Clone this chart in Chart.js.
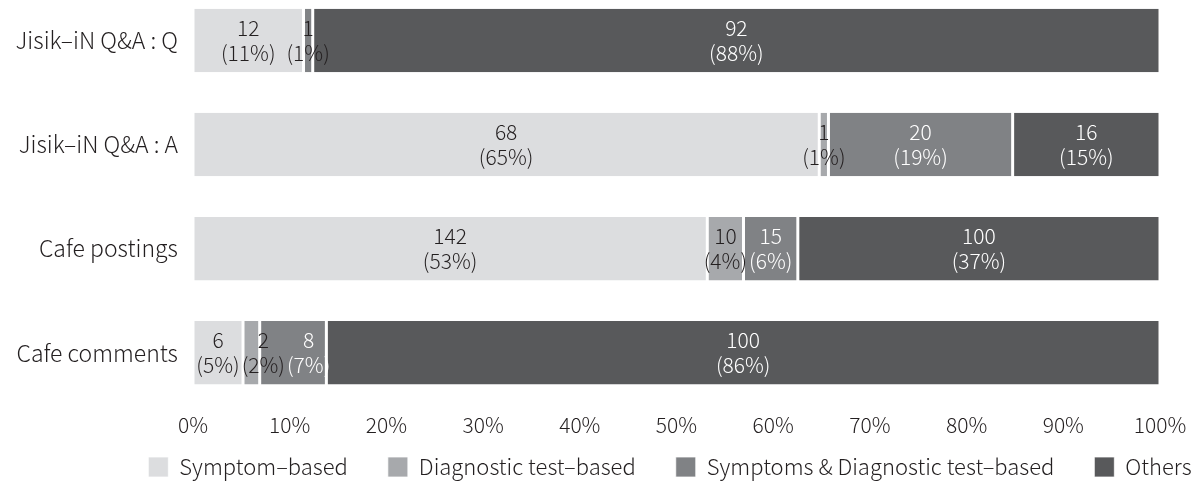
<!DOCTYPE html>
<html>
<head>
<meta charset="utf-8">
<script src="https://cdn.jsdelivr.net/npm/chart.js@4"></script>
<style>
  html, body { margin: 0; padding: 0; background: #ffffff; }
  #wrap { width: 1199px; height: 483px; position: relative; }
</style>
</head>
<body>
<div id="wrap"><canvas id="chart"></canvas></div>
<script>
// Source categories (one bar each)
const categories = ['Jisik–iN Q&A : Q', 'Jisik–iN Q&A : A', 'Cafe postings', 'Cafe comments'];

// Series names
const seriesNames = ['Symptom–based', 'Diagnostic test–based', 'Symptoms & Diagnostic test–based', 'Others'];

// Counts per category
const symptomBased    = [12, 68, 142, 6];
const diagnosticBased = [0, 1, 10, 2];
const bothBased       = [1, 20, 15, 8];
const others          = [92, 16, 100, 100];

// Axis ticks (percent of category total)
const xTickValues = [0, 10, 20, 30, 40, 50, 60, 70, 80, 90, 100];

const seriesCounts = [symptomBased, diagnosticBased, bothBased, others];
const seriesColors = ['#dcdddf', '#a7a9ac', '#808285', '#58595b'];
const labelColors  = ['#231f20', '#231f20', '#ffffff', '#ffffff'];

const totals = categories.map((_, i) => seriesCounts.reduce((s, arr) => s + arr[i], 0));

const FONT = '"Noto Sans CJK KR", "Noto Sans", sans-serif';
const WEIGHT = 300;
const TEXT = '#231f20';

Chart.defaults.font.family = FONT;
Chart.defaults.font.size = 21;
Chart.defaults.font.weight = WEIGHT;
Chart.defaults.color = TEXT;

// Two-line "count / (percent)" labels centred on each segment,
// nudged right when a label would run into its left neighbour
const segmentLabels = {
  id: 'segmentLabels',
  afterDatasetsDraw(chart) {
    const ctx = chart.ctx;
    ctx.save();
    ctx.font = WEIGHT + ' 21px ' + FONT;
    ctx.textAlign = 'center';
    ctx.textBaseline = 'middle';
    const ds = chart.data.datasets;
    chart.data.labels.forEach((_, i) => {
      let prevRight = -Infinity;
      ds.forEach((set, k) => {
        const n = set.counts[i];
        if (!n) return;
        const bar = chart.getDatasetMeta(k).data[i];
        const share = set.data[i];
        const top = String(n);
        const bottom = '(' + Math.round(share) + '%)';
        const w = Math.max(ctx.measureText(top).width, ctx.measureText(bottom).width);
        let cx = (bar.x + bar.base) / 2;
        if (cx - w / 2 < prevRight + 2) cx = prevRight + 2 + w / 2;
        prevRight = cx + w / 2;
        ctx.fillStyle = share < 2 ? TEXT : labelColors[k];
        ctx.fillText(top, cx, bar.y - 12.5);
        ctx.fillText(bottom, cx, bar.y + 12.5);
      });
    });
    ctx.restore();
  }
};

// Place the legend row centred at x = 670, items centred on y = 467
const legendRow = {
  id: 'legendRow',
  afterLayout(chart) {
    const lg = chart.legend;
    if (!lg || !lg.lineWidths) return;
    const pad = lg.options.labels.padding;
    const lw = lg.lineWidths[0];
    const W = chart.width;
    const start = 670 - (lw - pad) / 2;
    lg.left = (2 * start - pad - W + lw) / 2;
    lg.right = lg.left + W;
    lg.top = 467 - 11 - pad;
    lg.bottom = chart.height;
    if (lg.adjustHitBoxes) lg.adjustHitBoxes();
  }
};

new Chart(document.getElementById('chart'), {
  type: 'bar',
  data: {
    labels: categories,
    datasets: seriesCounts.map((arr, k) => ({
      label: seriesNames[k],
      counts: arr,
      data: arr.map((v, i) => v / totals[i] * 100),
      backgroundColor: seriesColors[k],
      borderColor: '#ffffff',
      borderWidth: { left: 1.5, right: 1.5, top: 0, bottom: 0 },
      borderSkipped: false,
      categoryPercentage: 1,
      barPercentage: 0.61,
      clip: false
    }))
  },
  options: {
    indexAxis: 'y',
    responsive: true,
    maintainAspectRatio: false,
    animation: false,
    layout: { padding: { top: 40.5, right: 39, bottom: 1, left: 0 } },
    plugins: {
      tooltip: { enabled: false },
      legend: {
        position: 'bottom',
        maxHeight: 44,
        labels: {
          boxWidth: 20,
          boxHeight: 20,
          padding: 40,
          color: TEXT,
          font: { size: 22, family: FONT, weight: WEIGHT }
        }
      }
    },
    scales: {
      x: {
        stacked: true,
        min: 0,
        max: 100,
        afterBuildTicks(scale) { scale.ticks = xTickValues.map(v => ({ value: v })); },
        ticks: {
          padding: 0,
          color: TEXT,
          maxRotation: 0,
          autoSkip: false,
          callback: v => v + '%'
        },
        grid: { display: false, tickLength: 60 },
        border: { display: false }
      },
      y: {
        stacked: true,
        offset: false,
        afterFit(scale) { scale.width = 193; },
        ticks: { padding: 7, color: TEXT, font: { size: 23, family: FONT, weight: WEIGHT } },
        grid: { display: false },
        border: { display: false }
      }
    }
  },
  plugins: [segmentLabels, legendRow]
});
</script>
</body>
</html>
